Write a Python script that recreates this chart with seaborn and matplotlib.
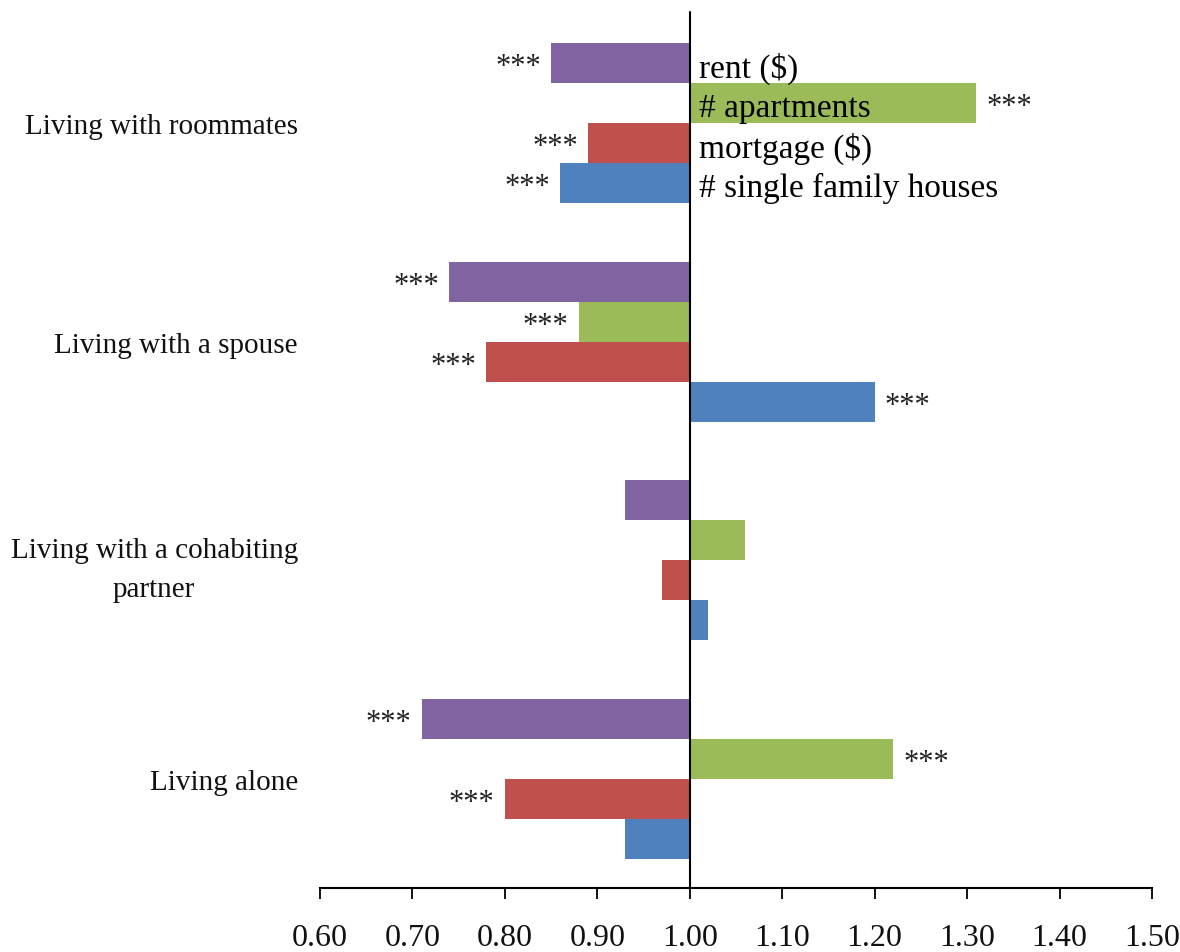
import matplotlib
matplotlib.use("Agg")
import matplotlib.pyplot as plt
import seaborn as sns
import pandas as pd

# Household types (top to bottom) and housing measures (top to bottom within a group)
categories = ["Living with roommates", "Living with a spouse",
              "Living with a cohabiting\npartner", "Living alone"]
measures = ["rent ($)", "# apartments", "mortgage ($)", "# single family houses"]

# Ratios relative to the 1.00 baseline, one list per measure (ordered like categories)
rent = [0.85, 0.74, 0.93, 0.71]
apartments = [1.31, 0.88, 1.06, 1.22]
mortgage = [0.89, 0.78, 0.97, 0.80]
single_family = [0.86, 1.20, 1.02, 0.93]

# Significance markers per measure
sig_rent = ["***", "***", "", "***"]
sig_apartments = ["***", "***", "", "***"]
sig_mortgage = ["***", "***", "", "***"]
sig_single_family = ["***", "***", "", ""]

xticks = [0.60, 0.70, 0.80, 0.90, 1.00, 1.10, 1.20, 1.30, 1.40, 1.50]
baseline = 1.0

colors = ["#8064A2", "#9BBB59", "#C0504D", "#4F81BD"]

series = [rent, apartments, mortgage, single_family]
sigs = [sig_rent, sig_apartments, sig_mortgage, sig_single_family]

rows = []
for m, vals, ss in zip(measures, series, sigs):
    for c, v, s in zip(categories, vals, ss):
        rows.append({"category": c, "measure": m, "value": v, "sig": s})
df = pd.DataFrame(rows)
df["offset"] = df["value"] - baseline

sns.set_theme(style="white")
plt.rcParams["font.family"] = ["Liberation Serif", "DejaVu Serif"]
FS_CAT = 21
FS_TICK = 23
FS_SERIES = 24
FS_SIG = 22

fig = plt.figure(figsize=(11.8, 9.53), dpi=100)
left, right = 320 / 1180, 1152 / 1180
bottom, top = 1 - 889 / 953, 1 - 15 / 953
ax = fig.add_axes([left, bottom, right - left, top - bottom])

group_width = 0.732
sns.barplot(data=df, y="category", x="offset", hue="measure",
            order=categories, hue_order=measures, palette=colors,
            orient="h", width=group_width, left=baseline, saturation=1,
            linewidth=0, legend=False, ax=ax)

ax.set_xlim(0.60, 1.50)
ax.set_ylim(3.5, -0.5)
ax.plot([baseline, baseline], [3.5, -0.51], color="black", linewidth=1.5,
        zorder=5, clip_on=False)

# annotate bars: significance stars at the bar end, series names on the top group
n = len(measures)
bw = group_width / n
for i, m in enumerate(measures):
    for j, c in enumerate(categories):
        row = df[(df["measure"] == m) & (df["category"] == c)].iloc[0]
        yc = j - group_width / 2 + bw * (i + 0.5)
        v = row["value"]
        if row["sig"]:
            if v >= baseline:
                ax.text(v + 0.011, yc + 0.016, row["sig"], ha="left", va="center",
                        fontsize=FS_SIG, color="#222222")
            else:
                ax.text(v - 0.011, yc + 0.016, row["sig"], ha="right", va="center",
                        fontsize=FS_SIG, color="#222222")
        if j == 0:
            ax.text(baseline + 0.01, yc + 0.02, m, ha="left", va="center",
                    fontsize=FS_SERIES, color="black")

ax.set_xticks(xticks)
ax.set_xticklabels([f"{t:.2f}" for t in xticks], fontsize=FS_TICK)
ax.set_yticks(range(len(categories)))
ax.set_yticklabels(categories, fontsize=FS_CAT, multialignment="center",
                   linespacing=1.65)
ax.set_xlabel("")
ax.set_ylabel("")

for s in ["top", "right", "left"]:
    ax.spines[s].set_visible(False)
ax.spines["bottom"].set_linewidth(1.5)
ax.spines["bottom"].set_color("black")
ax.tick_params(axis="x", direction="out", length=8, width=1.3, color="black",
               pad=17, bottom=True, labelcolor="#111111")
ax.tick_params(axis="y", length=0, pad=16, labelcolor="#111111")

fig.savefig("out.png", dpi=100, facecolor="white")
